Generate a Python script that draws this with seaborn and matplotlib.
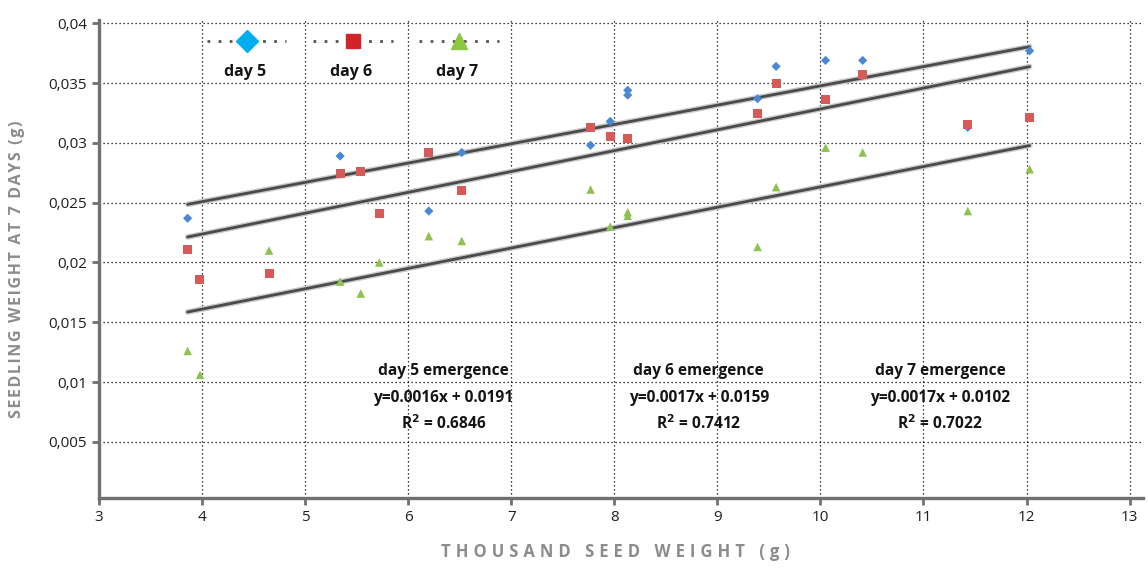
import matplotlib
matplotlib.use('Agg')
import matplotlib.pyplot as plt
import matplotlib.patheffects as pe
from matplotlib.lines import Line2D
from matplotlib.ticker import FuncFormatter
import numpy as np
import seaborn as sns

# Data (thousand seed weight vs seedling weight, g)
day5_x = [3.86, 5.34, 6.20, 6.52, 7.77, 7.96, 8.13, 8.13, 9.39, 9.57, 10.05, 10.41, 11.43, 12.03]
day5_y = [0.0237, 0.0289, 0.0243, 0.0292, 0.0298, 0.0318, 0.0344, 0.0340, 0.0337, 0.0364, 0.0369, 0.0369, 0.0313, 0.0377]

day6_x = [3.86, 3.98, 4.65, 5.34, 5.54, 5.72, 6.20, 6.52, 7.77, 7.96, 8.13, 9.39, 9.57, 10.05, 10.41, 11.43, 12.03]
day6_y = [0.0211, 0.0186, 0.0191, 0.0274, 0.0276, 0.0241, 0.0292, 0.0260, 0.0313, 0.0305, 0.0304, 0.0325, 0.0350, 0.0336, 0.0357, 0.0315, 0.0321]

day7_x = [3.86, 3.98, 4.65, 5.34, 5.54, 5.72, 6.20, 6.52, 7.77, 7.96, 8.13, 8.13, 9.39, 9.57, 10.05, 10.41, 11.43, 12.03]
day7_y = [0.0126, 0.0106, 0.0210, 0.0184, 0.0174, 0.0200, 0.0222, 0.0218, 0.0261, 0.0230, 0.0242, 0.0239, 0.0213, 0.0263, 0.0296, 0.0292, 0.0243, 0.0278]

# trend lines as drawn in the picture
trend_slope = [0.001614, 0.001744, 0.001704]
trend_icpt = [0.01863, 0.01540, 0.00928]

series_names = ['day 5', 'day 6', 'day 7']
eq_titles = ['day 5 emergence', 'day 6 emergence', 'day 7 emergence']
eq_texts = ['y=0.0016x + 0.0191', 'y=0.0017x + 0.0159', 'y=0.0017x + 0.0102']
r2_texts = ['0.6846', '0.7412', '0.7022']
eq_x = [6.34, 8.82, 11.16]

x_ticks = [3, 4, 5, 6, 7, 8, 9, 10, 11, 12, 13]
y_ticks = [0.005, 0.01, 0.015, 0.02, 0.025, 0.03, 0.035, 0.04]


def spaced(s, gap):
    # letter-spaced caps like the original axis titles
    return gap.join(ch if ch != ' ' else ' ' for ch in s)


sns.set_theme(style='white')
plt.rcParams['font.family'] = ['Open Sans', 'DejaVu Sans']

fig = plt.figure(figsize=(11.48, 5.69), dpi=100)
ax = fig.add_axes([99 / 1148, 71 / 569, 1044 / 1148, 478 / 569])

axis_gray = '#707070'
pt_colors = ['#4a88d6', '#d65a58', '#8dc152']
leg_colors = ['#00aeef', '#d2232a', '#8dc63f']

# trend lines
for xs, m, b in zip([day5_x, day6_x, day7_x], trend_slope, trend_icpt):
    lx = np.array([min(xs), max(xs)])
    sns.lineplot(x=lx, y=m * lx + b, ax=ax, color='#4a4a4a', lw=2.0, zorder=3,
                 path_effects=[pe.Stroke(linewidth=4.0, foreground='#c8c8c8'), pe.Normal()])

sns.scatterplot(x=day5_x, y=day5_y, ax=ax, marker='D', s=22, color=pt_colors[0],
                edgecolor='none', zorder=4, legend=False)
sns.scatterplot(x=day6_x, y=day6_y, ax=ax, marker='s', s=42, color=pt_colors[1],
                edgecolor='none', zorder=4, legend=False)
sns.scatterplot(x=day7_x, y=day7_y, ax=ax, marker='^', s=38, color=pt_colors[2],
                edgecolor='none', zorder=4, legend=False)

ax.set_xlim(3, 13.13)
ax.set_ylim(0.0003, 0.04028)
ax.set_xticks(x_ticks)
ax.set_yticks(y_ticks)
ax.yaxis.set_major_formatter(FuncFormatter(lambda v, p: ('%g' % v).replace('.', ',')))

ax.grid(True, color='black', linestyle=(0, (1, 2.2)), linewidth=0.9)
ax.set_axisbelow(True)
for s in ['top', 'right']:
    ax.spines[s].set_visible(False)
for s in ['left', 'bottom']:
    ax.spines[s].set_color(axis_gray)
    ax.spines[s].set_linewidth(2.4)
ax.tick_params(axis='both', colors=axis_gray, labelcolor='#1e1e1e', labelsize=11,
               direction='out', width=2, length=5, left=True, bottom=True)

# axis titles
fig.text(615 / 1148, 1 - 552 / 569, spaced('THOUSAND SEED WEIGHT (g)', '\u2009\u200a'),
         ha='center', va='center', fontsize=12, fontweight='bold', color='#8c8c8c')
fig.text(17 / 1148, 1 - 269 / 569, spaced('SEEDLING WEIGHT AT 7 DAYS (g)', '\u200a'),
         ha='center', va='center', rotation=90, fontsize=11.5, fontweight='bold', color='#8c8c8c')

# equation annotations
for xx, t, e, r in zip(eq_x, eq_titles, eq_texts, r2_texts):
    ax.text(xx, 0.01093, t, ha='center', va='center', fontsize=11.2, fontweight='bold', color='#151515')
    ax.text(xx, 0.00868, e, ha='center', va='center', fontsize=11.2, fontweight='bold', color='#151515')
    ax.text(xx, 0.0065, r'R$^{\mathbf{2}}$ = ' + r, ha='center', va='center', fontsize=11.2,
            fontweight='bold', color='#151515')

# legend: marker on a dotted line, label underneath
handles = [Line2D([], [], color='#555555', ls=(0, (1, 3.0)), lw=2, marker=mk, markersize=ms,
                  markerfacecolor=c, markeredgecolor=c)
           for mk, ms, c in zip(['D', 's', '^'], [11, 10, 11], leg_colors)]
ax.legend(handles, ['', '', ''], ncol=3, loc='center left', bbox_to_anchor=(0.1034, 0.952),
          frameon=False, handlelength=5.2, handletextpad=0, columnspacing=1.75,
          borderpad=0, borderaxespad=0, fontsize=11)
for xf, name in zip([0.1398, 0.2414, 0.3429], series_names):
    ax.text(xf, 0.891, name, transform=ax.transAxes, ha='center', va='center',
            fontsize=11.5, fontweight='bold', color='#151515')

fig.savefig('out.png', dpi=100)
